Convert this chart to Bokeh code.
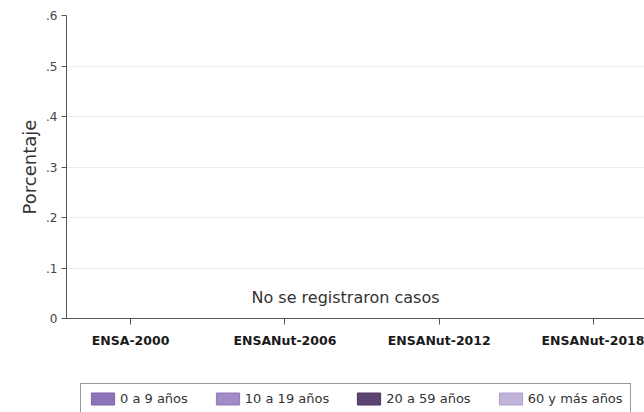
from bokeh.plotting import figure
from bokeh.layouts import column
from bokeh.models import (ColumnDataSource, Range1d, FixedTicker, Legend, LegendItem, Label)
from bokeh.embed import file_html
from bokeh.resources import INLINE

# ---- data ----
surveys = ["ENSA-2000", "ENSANut-2006", "ENSANut-2012", "ENSANut-2018"]
groups = ["0 a 9 años", "10 a 19 años", "20 a 59 años", "60 y más años"]
v_0_9 = [0, 0, 0, 0]
v_10_19 = [0, 0, 0, 0]
v_20_59 = [0, 0, 0, 0]
v_60 = [0, 0, 0, 0]
y_ticks = [0, 0.1, 0.2, 0.3, 0.4, 0.5, 0.6]
y_tick_labels = ["0", ".1", ".2", ".3", ".4", ".5", ".6"]
note = "No se registraron casos"

colors = ["#8d74b8", "#a18cc5", "#5d4472", "#c2b3da"]
borders = ["#7a62a6", "#8f79b6", "#4a3560", "#ae9dcb"]

FONT = "DejaVu Sans"

xpos = [i + 1 for i in range(len(surveys))]
series = [v_0_9, v_10_19, v_20_59, v_60]
offsets = [-0.3, -0.1, 0.1, 0.3]

p = figure(width=644, height=378, output_backend="svg", toolbar_location=None,
           x_range=Range1d(0.585, 4.33), y_range=Range1d(0, 0.6),
           min_border_left=66, min_border_top=15, min_border_bottom=60, min_border_right=0)
p.outline_line_color = None
p.background_fill_color = "white"
p.border_fill_color = "white"

for vals, off, c, b in zip(series, offsets, colors, borders):
    src = ColumnDataSource(dict(x=[x + off for x in xpos], top=vals))
    p.vbar(x="x", top="top", bottom=0, width=0.2, source=src,
           fill_color=c, line_color=b, line_width=1)

# axes
p.xaxis.ticker = FixedTicker(ticks=xpos)
p.xaxis.major_label_overrides = {x: s for x, s in zip(xpos, surveys)}
p.xaxis.minor_tick_line_color = None
p.xaxis.major_tick_out = 6
p.xaxis.major_tick_in = 0
p.xaxis.axis_line_color = "#555555"
p.xaxis.major_tick_line_color = "#555555"
p.xaxis.major_label_text_font = FONT
p.xaxis.major_label_text_font_style = "bold"
p.xaxis.major_label_text_font_size = "12.5px"
p.xaxis.major_label_text_color = "#1a1a1a"
p.xaxis.major_label_standoff = 8

p.yaxis.ticker = FixedTicker(ticks=y_ticks)
p.yaxis.major_label_overrides = {t: s for t, s in zip(y_ticks, y_tick_labels)}
p.yaxis.minor_tick_line_color = None
p.yaxis.major_tick_out = 5
p.yaxis.major_tick_in = 0
p.yaxis.axis_line_color = "#555555"
p.yaxis.major_tick_line_color = "#555555"
p.yaxis.major_label_text_font = FONT
p.yaxis.major_label_text_font_size = "12px"
p.yaxis.major_label_text_color = "#444444"
p.yaxis.major_label_standoff = 4
p.yaxis.axis_label = "Porcentaje"
p.yaxis.axis_label_text_font = FONT
p.yaxis.axis_label_text_font_size = "18px"
p.yaxis.axis_label_text_font_style = "normal"
p.yaxis.axis_label_text_color = "#333333"
p.yaxis.axis_label_standoff = 3

p.xgrid.grid_line_color = None
p.ygrid.ticker = FixedTicker(ticks=y_ticks[1:-1])
p.ygrid.grid_line_color = "#e8eef1"
p.ygrid.grid_line_width = 1

p.add_layout(Label(x=279, y=0.042, x_units="screen", text=note,
                   text_align="center", text_baseline="middle",
                   text_font=FONT, text_font_size="16px", text_color="#333333"))

# ---- legend strip (separate figure below the chart) ----
lf = figure(width=644, height=34, output_backend="svg", toolbar_location=None,
            x_range=Range1d(0.585, 4.33), y_range=Range1d(1, 2),
            x_axis_type=None, y_axis_type=None,
            min_border_left=0, min_border_right=0, min_border_top=0, min_border_bottom=0)
lf.outline_line_color = None
lf.xgrid.visible = False
lf.ygrid.visible = False
items = []
for vals, off, c, b, g in zip(series, offsets, colors, borders, groups):
    src = ColumnDataSource(dict(x=[x + off for x in xpos], top=vals))
    r = lf.vbar(x="x", top="top", bottom=0, width=0.2, source=src,
                fill_color=c, line_color=b, line_width=1)
    items.append(LegendItem(label=g, renderers=[r]))

legend = Legend(items=items, orientation="horizontal", location=(14, -2),
                glyph_width=29, glyph_height=15, label_standoff=3, spacing=25,
                padding=7, margin=0,
                label_text_font=FONT, label_text_font_size="13px", label_text_color="#333333",
                border_line_color="#333333", border_line_width=1,
                background_fill_color="white", background_fill_alpha=1)
lf.add_layout(legend)

layout = column(p, lf, spacing=0)
open("out.html", "w").write(file_html(layout, INLINE))
